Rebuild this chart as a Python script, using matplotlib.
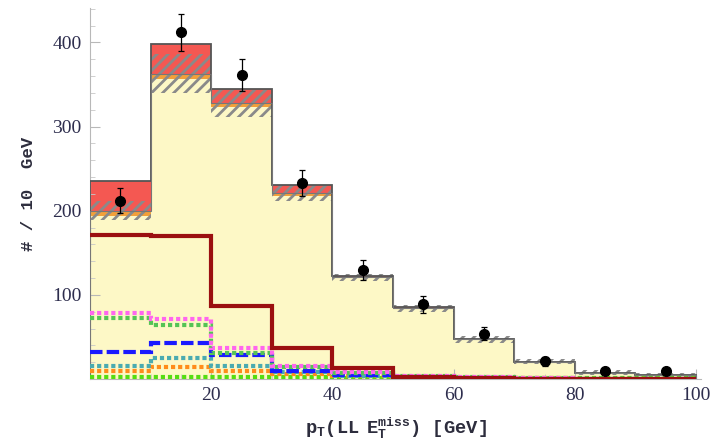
import numpy as np
import matplotlib
matplotlib.use("Agg")
import matplotlib.pyplot as plt

# bin edges in GeV
edges = np.arange(0, 101, 10)

# stacked backgrounds and signal
bkg_main = [194, 356, 323, 218, 120, 83, 46, 20, 7, 4]
bkg_orange = [6, 7, 5, 3, 1, 1, 1, 0.5, 0.5, 0.3]
signal = [35, 35, 17, 10, 2, 1, 0, 0, 0, 0]
bkg_err = [11, 23, 16, 9, 4, 4, 4, 3, 3, 3]

# data points
data = [212, 412, 361, 233, 130, 89, 54, 21, 9, 9]
data_err = [15, 22, 19, 16, 12, 10, 8, 5, 3, 3]

# individual components drawn as lines
comp_darkred = [171, 170, 87, 37, 13, 2, 1, 0.5, 0.3, 0.2]
comp_magenta = [79, 71, 37, 16, 8, 3, 2, 1, 0.5, 0.3]
comp_green = [73, 64, 31, 14, 7, 3, 2, 1, 0.5, 0.3]
comp_blue = [32, 43, 28, 10, 5, 2, 1, 0.5, 0.3, 0.2]
comp_teal = [16, 25, 16, 8, 4, 2, 1, 0.5, 0.3, 0.2]
comp_orange = [10, 14, 9, 6, 3, 2, 1.5, 1, 0.5, 0.3]
comp_lime = [2, 2, 2, 2, 1.5, 1.5, 1.5, 1.5, 1.5, 1.5]

plt.rcParams["hatch.linewidth"] = 2.0
plt.rcParams["mathtext.fontset"] = "custom"
plt.rcParams["mathtext.rm"] = "Liberation Mono:bold"
plt.rcParams["mathtext.it"] = "Liberation Mono:bold"
plt.rcParams["mathtext.bf"] = "Liberation Mono:bold"

fig = plt.figure(figsize=(7.23, 4.43), dpi=100)
ax = fig.add_axes([0.1245, 0.1445, 0.845, 0.8375])

b1 = np.array(bkg_main, dtype=float)
b2 = b1 + np.array(bkg_orange)
tot = b2 + np.array(signal)
err = np.array(bkg_err, dtype=float)

ax.stairs(b1, edges, baseline=0, fill=True, color="#fdf8c6", lw=0, zorder=1)
ax.stairs(b2, edges, baseline=b1, fill=True, color="#f2a03a", lw=0, zorder=1)
ax.stairs(tot, edges, baseline=b2, fill=True, color="#f45852", lw=0, zorder=1)

# uncertainty band on the background
ax.stairs(b2 + err, edges, baseline=b2 - err, fill=True, facecolor="none",
          edgecolor="#8a8a8a", hatch="///", lw=0, zorder=2)

ax.stairs(tot, edges, color="#555555", lw=1.3, zorder=3)
ax.stairs(b2, edges, color="#777777", lw=0.8, zorder=3)

dot = (0, (1, 0.7))
ax.stairs(comp_lime, edges, baseline=None, color="#55dd11", lw=3, ls=dot, zorder=4)
ax.stairs(comp_orange, edges, baseline=None, color="#ff8c1a", lw=3, ls=dot, zorder=4)
ax.stairs(comp_teal, edges, baseline=None, color="#4aabb0", lw=3, ls=dot, zorder=4)
ax.stairs(comp_blue, edges, baseline=None, color="#1a1aff", lw=3, ls=(0, (3, 1)), zorder=4)
ax.stairs(comp_green, edges, baseline=None, color="#55c455", lw=3, ls=dot, zorder=4)
ax.stairs(comp_magenta, edges, baseline=None, color="#ff66ee", lw=3, ls=dot, zorder=4)
ax.stairs(comp_darkred, edges, baseline=None, color="#9b1010", lw=3, zorder=5)

centers = (edges[:-1] + edges[1:]) / 2
ax.errorbar(centers, data, yerr=data_err, fmt="o", color="black", ms=7,
            elinewidth=0.9, capsize=2.5, capthick=0.9, zorder=6)

ax.set_xlim(0, 100.8)
ax.set_ylim(0, 441)
ax.set_xticks([20, 40, 60, 80, 100])
ax.set_yticks([100, 200, 300, 400])
ax.set_yticks(np.arange(20, 441, 20), minor=True)
ax.set_xticks(np.arange(5, 101, 5), minor=True)

for s in ["top", "right"]:
    ax.spines[s].set_visible(False)
for s in ["left", "bottom"]:
    ax.spines[s].set_color("#b8b8b8")
    ax.spines[s].set_linewidth(0.8)

ax.tick_params(direction="in", color="#b8b8b8", length=7, width=0.8,
               labelsize=14, labelcolor="#2d2d4d", pad=6)
ax.tick_params(which="minor", direction="in", color="#c8c8c8", length=3.5)
for lab in ax.get_xticklabels() + ax.get_yticklabels():
    lab.set_family("Liberation Serif")

ax.set_xlabel(r"$\mathrm{p_T(LL\ \ E_T^{miss})\ \ \ [GeV]}$", fontsize=13.5,
              color="#2d2d3d", labelpad=8)
ax.set_ylabel("# / 10  GeV", family="Liberation Mono", weight="bold",
              fontsize=12.5, color="#2d2d3d", labelpad=12)

fig.savefig("out.png", dpi=100)
